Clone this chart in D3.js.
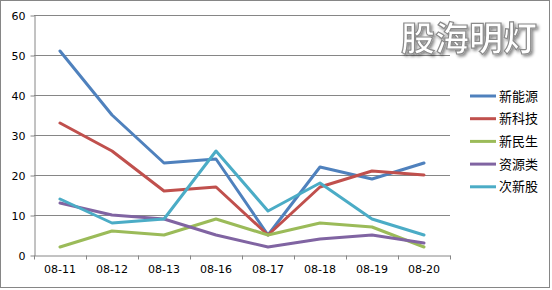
<!DOCTYPE html>
<html>
<head>
<meta charset="utf-8">
<script src="https://cdn.jsdelivr.net/npm/d3@7"></script>
<style>
  body { margin: 0; background: #fff; }
  svg { display: block; }
</style>
</head>
<body>
<svg id="chart" width="552" height="290"></svg>
<script>
// data
var dates = ["08-11", "08-12", "08-13", "08-16", "08-17", "08-18", "08-19", "08-20"];
var names = ["新能源", "新科技", "新民生", "资源类", "次新股"];
var xinNengYuan = [51, 35, 23, 24, 5, 22, 19, 23];
var xinKeJi     = [33, 26, 16, 17, 5, 17, 21, 20];
var xinMinSheng = [2, 6, 5, 9, 5, 8, 7, 2];
var ziYuanLei   = [13, 10, 9, 5, 2, 4, 5, 3];
var ciXinGu     = [14, 8, 9, 26, 11, 18, 9, 5];
var yTicks = [0, 10, 20, 30, 40, 50, 60];

var series = [xinNengYuan, xinKeJi, xinMinSheng, ziYuanLei, ciXinGu];
var colors = ["#4F81BD", "#C0504D", "#9BBB59", "#8064A2", "#4BACC6"];

var svg = d3.select("#chart");
// plot area edges (note: "top" is taken by window.top)
var plotLeft = 34, plotRight = 450, plotTop = 15, plotBottom = 255;

// outer frame
svg.append("rect")
  .attr("x", 0.5).attr("y", 0.5)
  .attr("width", 549).attr("height", 287)
  .attr("fill", "#fff")
  .attr("stroke", "#868686");

var x = d3.scaleBand()
  .domain(dates)
  .range([plotLeft, plotRight]);

var y = d3.scaleLinear()
  .domain([0, 60])
  .range([plotBottom, plotTop]);

// gridlines
svg.append("g")
  .selectAll("line")
  .data(yTicks.slice(1))
  .enter()
    .append("line")
    .attr("x1", plotLeft).attr("x2", plotRight)
    .attr("y1", function(d) { return y(d) + 0.5; })
    .attr("y2", function(d) { return y(d) + 0.5; })
    .attr("stroke", "#868686");

// y axis
var yAxis = svg.append("g")
  .attr("transform", "translate(" + (plotLeft + 0.5) + ",0.5)")
  .call(d3.axisLeft(y).tickValues(yTicks).tickSize(4).tickPadding(5).tickSizeOuter(0));

// x axis
var xAxis = svg.append("g")
  .attr("transform", "translate(0," + (plotBottom + 0.5) + ")")
  .call(d3.axisBottom(x).tickSize(0).tickPadding(10));

xAxis.append("g")
  .selectAll("line")
  .data(dates.concat([null]))
  .enter()
    .append("line")
    .attr("x1", function(d, i) { return plotLeft + i * x.bandwidth() + 0.5; })
    .attr("x2", function(d, i) { return plotLeft + i * x.bandwidth() + 0.5; })
    .attr("y1", 0).attr("y2", 4)
    .attr("stroke", "#868686");

[yAxis, xAxis].forEach(function(a) {
  a.select(".domain").attr("stroke", "#868686");
  a.selectAll(".tick line").attr("stroke", "#868686");
  a.selectAll("text")
    .attr("font-family", "Verdana, 'DejaVu Sans', sans-serif")
    .attr("font-size", "11px")
    .attr("fill", "#000");
});

// lines
var line = d3.line()
  .x(function(d, i) { return x(dates[i]) + x.bandwidth() / 2; })
  .y(function(d) { return y(d); });

series.forEach(function(s, k) {
  svg.append("path")
    .datum(s)
    .attr("d", line)
    .attr("fill", "none")
    .attr("stroke", colors[k])
    .attr("stroke-width", 3)
    .attr("stroke-linejoin", "round")
    .attr("stroke-linecap", "round");
});

// legend
var legend = svg.append("g")
  .selectAll("g")
  .data(names)
  .enter()
    .append("g")
    .attr("transform", function(d, i) { return "translate(470," + (96 + i * 22.7) + ")"; });

legend.append("line")
  .attr("x1", 0).attr("x2", 26)
  .attr("stroke", function(d, i) { return colors[i]; })
  .attr("stroke-width", 3);

legend.append("text")
  .attr("x", 29)
  .attr("dy", "0.35em")
  .attr("font-family", "'Noto Sans CJK SC', sans-serif")
  .attr("font-size", "13px")
  .text(function(d) { return d; });

// watermark
var defs = svg.append("defs");
var f = defs.append("filter").attr("id", "shadow")
  .attr("x", "-10%").attr("y", "-10%").attr("width", "130%").attr("height", "140%");
f.append("feDropShadow")
  .attr("dx", 2).attr("dy", 2).attr("stdDeviation", 1.5)
  .attr("flood-color", "#000").attr("flood-opacity", 0.45);

svg.append("text")
  .attr("x", 469).attr("y", 51)
  .attr("text-anchor", "middle")
  .attr("font-family", "'Noto Sans CJK SC', sans-serif")
  .attr("font-weight", "bold")
  .attr("font-size", "34px")
  .attr("fill", "#fff")
  .attr("stroke", "#8a8a8a")
  .attr("stroke-width", 1.2)
  .attr("filter", "url(#shadow)")
  .text("股海明灯");
</script>
</body>
</html>
